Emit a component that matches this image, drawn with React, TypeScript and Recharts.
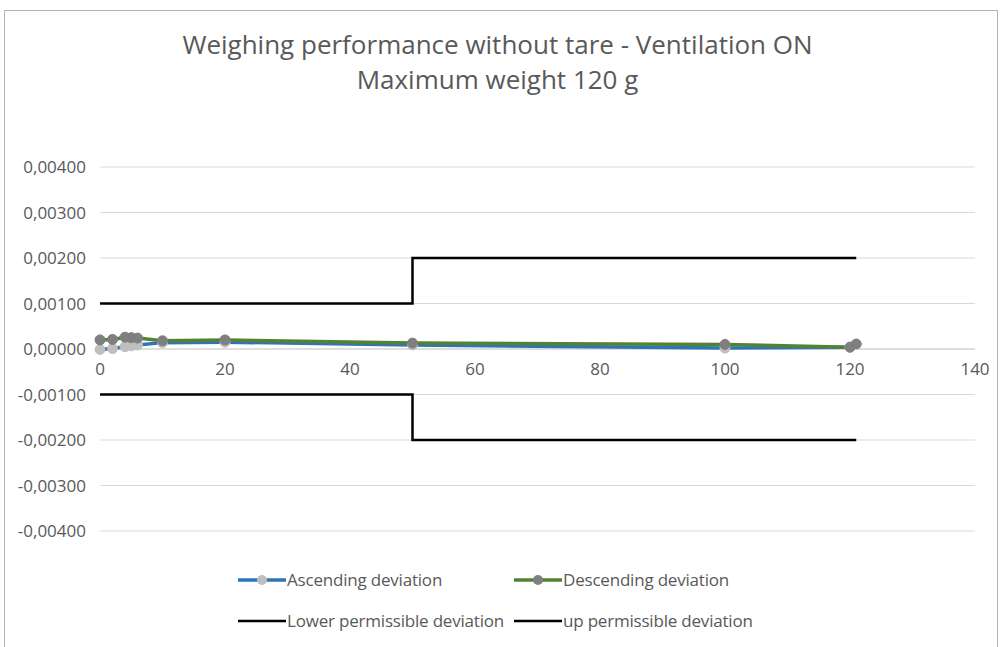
import React from 'react';
import { LineChart, Line, XAxis, YAxis, CartesianGrid, ReferenceLine, ReferenceDot, Legend } from 'recharts';

const titleLines = ['Weighing performance without tare - Ventilation ON', 'Maximum weight 120 g'];

const ascX = [0, 2, 4, 5, 6, 10, 20, 50, 100, 120];
const ascY = [-0.00001, 0.00001, 0.00005, 0.00007, 0.00009, 0.00014, 0.00015, 0.00009, 0.00002, 0.00004];

const descX = [121, 120, 100, 50, 20, 10, 6, 5, 4, 2, 0];
const descY = [0.00011, 0.00004, 0.0001, 0.00013, 0.0002, 0.00018, 0.00024, 0.00025, 0.00026, 0.00021, 0.0002];

const lowerX = [0, 50, 50, 121];
const lowerY = [-0.001, -0.001, -0.002, -0.002];
const upperX = [0, 50, 50, 121];
const upperY = [0.001, 0.001, 0.002, 0.002];

const xTicks = [0, 20, 40, 60, 80, 100, 120, 140];
const yTicks = [-0.004, -0.003, -0.002, -0.001, 0, 0.001, 0.002, 0.003, 0.004];

const seriesNames = ['Ascending deviation', 'Descending deviation', 'Lower permissible deviation', 'up permissible deviation'];
const seriesColors = ['#2E75B6', '#548235', '#000000', '#000000'];
const markerColors = ['#BFBFBF', '#7F7F7F', '', ''];

const zip = (xs: number[], ys: number[]) => xs.map((x, i) => ({ x, y: ys[i] }));

const ascData = zip(ascX, ascY);
const descData = zip(descX, descY);
const lowerData = zip(lowerX, lowerY);
const upperData = zip(upperX, upperY);

const FONT = '"Open Sans", sans-serif';
const TEXT = '#595959';
const FS = 17;

const fmt = (v: number) => {
  const s = Math.abs(v).toFixed(5).replace('.', ',');
  return (v < 0 ? '-' : '') + s;
};

const LegendIcon = ({ color, marker, thick }: { color: string; marker: string; thick: number }) => (
  <svg width={48} height={14} style={{ display: 'block' }}>
    <line x1={0} y1={7} x2={48} y2={7} stroke={color} strokeWidth={thick} />
    {marker ? <circle cx={24} cy={7} r={5} fill={marker} /> : null}
  </svg>
);

const renderLegend = () => {
  const rows = [[0, 1], [2, 3]];
  return (
    <div style={{ fontFamily: FONT, fontSize: FS, color: TEXT }}>
      {rows.map((row, ri) => (
        <div key={ri} style={{ display: 'flex', height: 41, alignItems: 'center' }}>
          {row.map((i) => (
            <div key={i} style={{ display: 'flex', alignItems: 'center', width: i % 2 === 0 ? 276 : 'auto', whiteSpace: 'nowrap' }}>
              <LegendIcon color={seriesColors[i]} marker={markerColors[i]} thick={i < 2 ? 3.5 : 2.5} />
              <span style={{ marginLeft: 1, letterSpacing: -0.2 }}>{seriesNames[i]}</span>
            </div>
          ))}
        </div>
      ))}
    </div>
  );
};

export default function App() {
  return (
    <div
      style={{
        position: 'absolute',
        left: 4,
        top: 10,
        width: 994,
        height: 700,
        border: '1px solid #b3b3b3',
        boxSizing: 'border-box',
        background: '#fff',
        fontFamily: FONT,
      }}
    >
      <div
        style={{
          position: 'absolute',
          left: 0,
          top: 16,
          width: 985,
          textAlign: 'center',
          fontSize: 26,
          lineHeight: '35px',
          color: TEXT,
          zIndex: 2,
        }}
      >
        {titleLines.map((t) => (
          <div key={t}>{t}</div>
        ))}
      </div>
      <LineChart width={992} height={690} margin={{ top: 156, right: 22, bottom: 170, left: 15 }}>
        <CartesianGrid horizontal vertical={false} stroke="#d9d9d9" strokeWidth={1} />
        <XAxis type="number" dataKey="x" domain={[0, 140]} ticks={xTicks} hide allowDuplicatedCategory={false} />
        <YAxis
          type="number"
          domain={[-0.004, 0.004]}
          ticks={yTicks}
          width={80}
          tickFormatter={fmt}
          axisLine={false}
          tickLine={false}
          tickSize={0}
          tickMargin={14}
          tick={{ fill: TEXT, fontSize: FS, fontFamily: FONT }}
          interval={0}
        />
        <ReferenceLine y={0} stroke="#d0d0d0" strokeWidth={1} />
        {xTicks.map((t) => (
          <ReferenceDot
            key={t}
            x={t}
            y={0}
            r={0}
            fill="none"
            stroke="none"
            label={{ value: String(t), position: 'bottom', offset: 14, fill: TEXT, fontSize: FS, fontFamily: FONT }}
          />
        ))}
        <Line
          data={ascData}
          dataKey="y"
          name={seriesNames[0]}
          type="linear"
          stroke={seriesColors[0]}
          strokeWidth={3.5}
          dot={{ r: 5, fill: markerColors[0], stroke: markerColors[0], strokeWidth: 1 }}
          activeDot={false}
          isAnimationActive={false}
        />
        <Line
          data={descData}
          dataKey="y"
          name={seriesNames[1]}
          type="linear"
          stroke={seriesColors[1]}
          strokeWidth={3.5}
          dot={{ r: 5, fill: markerColors[1], stroke: markerColors[1], strokeWidth: 1 }}
          activeDot={false}
          isAnimationActive={false}
        />
        <Line
          data={lowerData}
          dataKey="y"
          name={seriesNames[2]}
          type="linear"
          stroke={seriesColors[2]}
          strokeWidth={2.5}
          dot={false}
          activeDot={false}
          isAnimationActive={false}
        />
        <Line
          data={upperData}
          dataKey="y"
          name={seriesNames[3]}
          type="linear"
          stroke={seriesColors[3]}
          strokeWidth={2.5}
          dot={false}
          activeDot={false}
          isAnimationActive={false}
        />
        <Legend
          layout="horizontal"
          verticalAlign="middle"
          align="center"
          content={renderLegend}
          wrapperStyle={{ position: 'absolute', top: 548, left: 233, width: 'auto' }}
        />
      </LineChart>
    </div>
  );
}
